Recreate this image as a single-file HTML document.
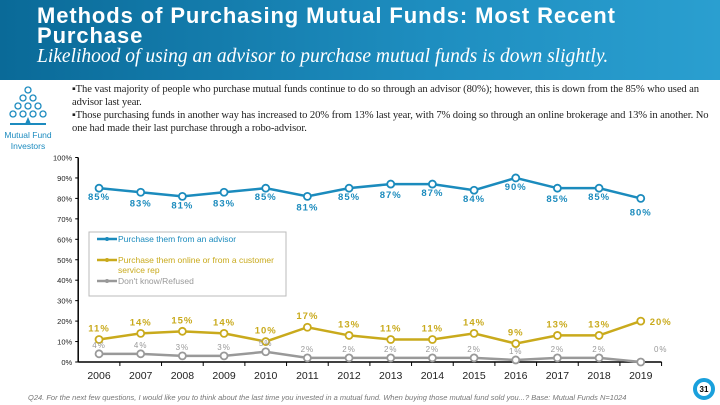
<!DOCTYPE html>
<html><head><meta charset="utf-8"><style>
body{margin:0;width:720px;height:405px;overflow:hidden;background:#fff;font-family:"Liberation Sans",sans-serif;position:relative}
#hdr{position:absolute;left:0;top:0;width:720px;height:80px;background:linear-gradient(90deg,#0a6a98,#1e8ec0 60%,#2a9fd0)}
#t{position:absolute;left:37px;top:6px;color:#fff;font-weight:bold;font-size:22px;line-height:20px;width:690px;letter-spacing:0.9px;white-space:nowrap}
#st{position:absolute;left:37px;top:46px;color:#fff;font-family:"Liberation Serif",serif;font-style:italic;font-size:19.5px}
#bul{position:absolute;left:72px;top:83px;font-family:"Liberation Serif",serif;font-size:10.6px;line-height:13px;color:#222;width:640px;letter-spacing:-0.1px}
#ic{position:absolute;left:0px;top:130px;width:56px;text-align:center;color:#1c8bbf;font-size:8.5px;line-height:11px}
#foot{position:absolute;left:28px;top:393px;font-size:7.5px;font-style:italic;color:#777}
</style></head><body>
<div id="hdr"></div>
<div id="t">Methods of Purchasing Mutual Funds: Most Recent<br>Purchase</div>
<div id="st">Likelihood of using an advisor to purchase mutual funds is down slightly.</div>
<svg style="position:absolute;left:8px;top:86px" width="40" height="42">
<g fill="none" stroke="#1c8bbf" stroke-width="1.3">
<circle cx="20" cy="4" r="3"/><circle cx="15" cy="12" r="3"/><circle cx="25" cy="12" r="3"/>
<circle cx="10" cy="20" r="3"/><circle cx="20" cy="20" r="3"/><circle cx="30" cy="20" r="3"/>
<circle cx="5" cy="28" r="3"/><circle cx="15" cy="28" r="3"/><circle cx="25" cy="28" r="3"/><circle cx="35" cy="28" r="3"/></g>
<path d="M20 31 L17 38 L23 38Z" fill="#1c8bbf"/><rect x="2" y="37" width="36" height="2" fill="#1c8bbf"/></svg>
<div id="ic">Mutual Fund<br>Investors</div>
<div id="bul">▪The vast majority of people who purchase mutual funds continue to do so through an advisor (80%); however, this is down from the 85% who used an advisor last year.<br>▪Those purchasing funds in another way has increased to 20% from 13% last year, with 7% doing so through an online brokerage and 13% in another. No one had made their last purchase through a robo-advisor.</div>
<svg id="c" width="720" height="405" style="position:absolute;left:0;top:0"></svg>
<div id="foot">Q24. For the next few questions, I would like you to think about the last time you invested in a mutual fund. When buying those mutual fund sold you...? Base: Mutual Funds N=1024</div>
<svg style="position:absolute;left:692px;top:377px" width="24" height="24"><circle cx="12" cy="12" r="9" fill="#fff" stroke="#1aa0dc" stroke-width="4"/><text x="12" y="15" text-anchor="middle" font-size="8" font-weight="bold" font-family="Liberation Sans">31</text></svg>
<script>
const years=["2006","2007","2008","2009","2010","2011","2012","2013","2014","2015","2016","2017","2018","2019"];
const advisor=[85,83,81,83,85,81,85,87,87,84,90,85,85,80];
const online=[11,14,15,14,10,17,13,11,11,14,9,13,13,20];
const dk=[4,4,3,3,5,2,2,2,2,2,1,2,2,0];
const yTicks=[0,10,20,30,40,50,60,70,80,90,100];
const NS="http://www.w3.org/2000/svg",svg=document.getElementById('c');
const x0=78.2,step=41.67,y0=362,yk=2.045;
const X=i=>x0+step*(i+0.5),Y=v=>y0-v*yk;
function el(t,a,txt){const e=document.createElementNS(NS,t);for(const k in a)e.setAttribute(k,a[k]);if(txt!=null)e.textContent=txt;svg.appendChild(e);return e;}
let e=el('line',{x1:x0,y1:Y(100),x2:x0,y2:y0,stroke:'#000','stroke-width':1.5});

e=el('line',{x1:x0,y1:y0,x2:x0+step*14,y2:y0,stroke:'#000','stroke-width':1.5});

yTicks.forEach(v=>{el('line',{x1:x0-3,y1:Y(v),x2:x0,y2:Y(v),stroke:'#000'});
e=el('text',{x:x0-6,y:Y(v)+3,'text-anchor':'end','font-size':7.5,fill:'#222'},v+'%');
});
years.forEach((y,i)=>{el('line',{x1:x0+step*(i+1),y1:y0,x2:x0+step*(i+1),y2:y0+4,stroke:'#000'});
e=el('text',{x:X(i),y:y0+17,'text-anchor':'middle','font-size':10.5,fill:'#222'},y);
});
function series(d,col,name,lab,fs,dy,sw){
 e=el('polyline',{points:d.map((v,i)=>X(i)+','+Y(v)).join(' '),fill:'none',stroke:col,'stroke-width':sw});
 
 d.forEach((v,i)=>{e=el('circle',{cx:X(i),cy:Y(v),r:3.5,fill:'#fff',stroke:col,'stroke-width':1.8});
 
 let lx=X(i),ly=Y(v)+dy(i);if(i==13&&name!='advisor'){lx+=20;}
 e=el('text',{x:lx,y:ly,'text-anchor':'middle','font-size':fs,'font-weight':lab?'bold':'normal',fill:col,'letter-spacing':1},v+'%');
 });
}
series(advisor,'#1b8bbd','advisor',1,9.5,i=>i==13?17:i%2==0||i==9?12:14,2.5);
series(online,'#c9aa1c','online',1,9.5,i=>i==13?4:-8,2.5);
series(dk,'#999','dont-know',0,8,i=>i==13?-10:-6,2.5);
e=el('rect',{x:89,y:232,width:197,height:64,fill:'#fff',stroke:'#bbb'});

[['#1b8bbd','Purchase them from an advisor',242],['#c9aa1c','Purchase them online or from a customer',263],['#999',"Don't know/Refused",284]].forEach(l=>{
 el('line',{x1:97,y1:l[2]-3,x2:117,y2:l[2]-3,stroke:l[0],'stroke-width':2.5});
 el('circle',{cx:107,cy:l[2]-3,r:2,fill:l[0]});
 e=el('text',{x:118,y:l[2],'font-size':8.5,fill:l[0]},l[1]);
 });
el('text',{x:118,y:273,'font-size':8.5,fill:'#c9aa1c'},'service rep');
</script>
</body></html>
